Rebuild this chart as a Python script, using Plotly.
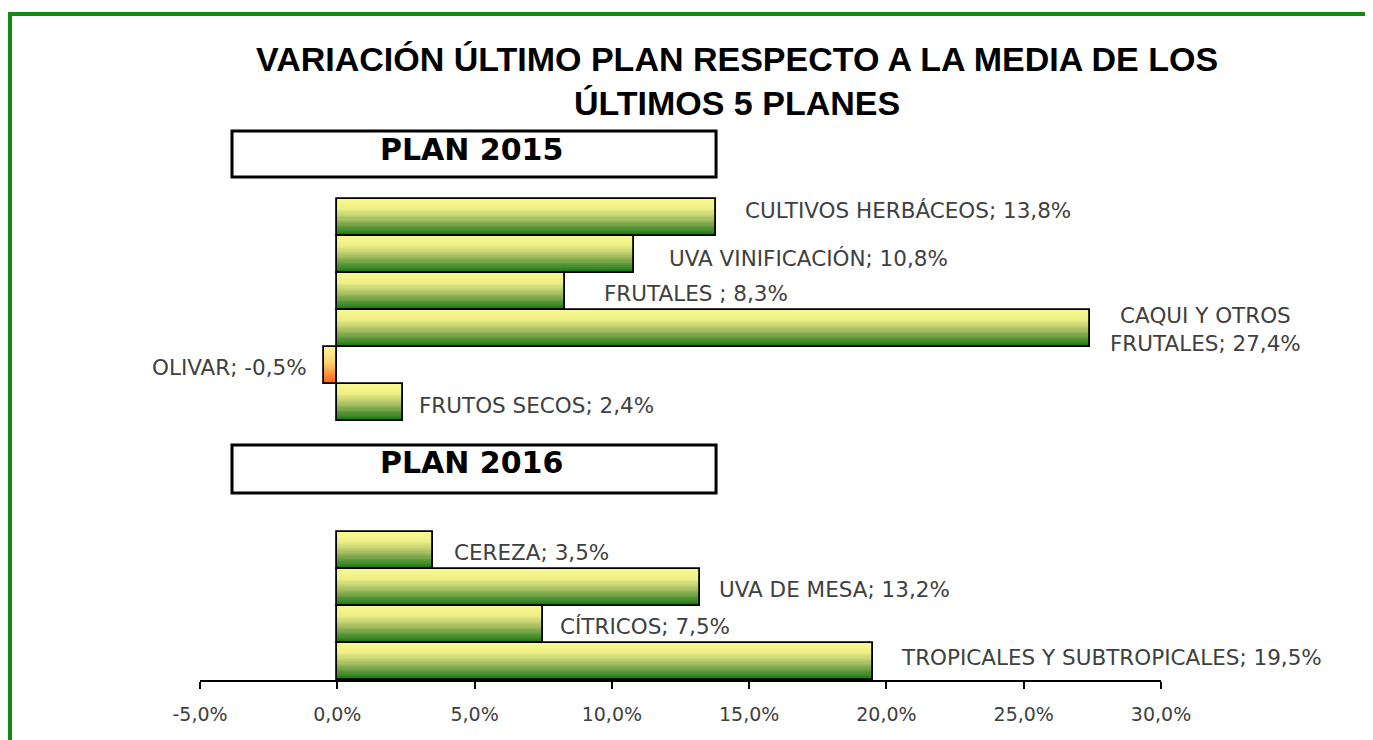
# %% Imports
import plotly.graph_objects as go

# %% Data
cultivos_2015 = ["CULTIVOS HERBÁCEOS", "UVA VINIFICACIÓN", "FRUTALES ",
                 "CAQUI Y OTROS<br>FRUTALES", "OLIVAR", "FRUTOS SECOS"]
valores_2015 = [13.8, 10.8, 8.3, 27.4, -0.5, 2.4]

cultivos_2016 = ["CEREZA", "UVA DE MESA", "CÍTRICOS", "TROPICALES Y SUBTROPICALES"]
valores_2016 = [3.5, 13.2, 7.5, 19.5]

tick_vals = [-5, 0, 5, 10, 15, 20, 25, 30]
tick_text = ["-5,0%", "0,0%", "5,0%", "10,0%", "15,0%", "20,0%", "25,0%", "30,0%"]

titulo = "VARIACIÓN ÚLTIMO PLAN RESPECTO A LA MEDIA DE LOS<br>ÚLTIMOS 5 PLANES"
planes = ["PLAN 2015", "PLAN 2016"]

# %% Layout of the rows (top to bottom, 3 empty rows between the plans)
N_GAP = 3
names = cultivos_2015 + cultivos_2016
values = valores_2015 + valores_2016
n_rows = len(cultivos_2015) + N_GAP + len(cultivos_2016)
ypos = list(range(n_rows - 1, n_rows - 1 - len(cultivos_2015), -1)) + \
    list(range(len(cultivos_2016) - 1, -1, -1))

labels = [f"{n}; {v:.1f}".replace(".", ",") + "%" for n, v in zip(names, values)]

# label nudges in px (xanchor, xshift, yshift)
label_pos = [
    ("left", 27, 7), ("left", 33, -4), ("left", 37, -2), ("center", 116, -1),
    ("right", -15, -2), ("left", 14, -3),
    ("left", 19, -2), ("left", 17, -2), ("left", 15, -2), ("left", 26, 4),
]

# %% Gradient helpers
GREEN_STOPS = [(0.0, (248, 248, 145)), (0.25, (238, 240, 135)), (0.55, (170, 192, 100)),
               (0.8, (85, 148, 55)), (1.0, (20, 120, 15))]
ORANGE_STOPS = [(0.0, (255, 246, 150)), (0.45, (255, 205, 110)), (1.0, (250, 95, 20))]


def grad(stops, t):
    for (t0, c0), (t1, c1) in zip(stops[:-1], stops[1:]):
        if t <= t1:
            f = (t - t0) / (t1 - t0)
            c = [round(a + (b - a) * f) for a, b in zip(c0, c1)]
            return f"rgb({c[0]},{c[1]},{c[2]})"
    c = stops[-1][1]
    return f"rgb({c[0]},{c[1]},{c[2]})"


# %% Figure
fig = go.Figure()

N = 30
for i in range(N):
    t = i / (N - 1)
    cols = [grad(GREEN_STOPS if v >= 0 else ORANGE_STOPS, t) for v in values]
    fig.add_trace(go.Bar(
        x=values, y=ypos, orientation="h",
        offset=0.5 - (i + 1) / N, width=1.15 / N,
        marker=dict(color=cols, line=dict(width=0)),
        hoverinfo="skip", showlegend=False,
    ))

# outline
fig.add_trace(go.Bar(
    x=values, y=ypos, orientation="h", offset=-0.5, width=1,
    marker=dict(color="rgba(0,0,0,0)", line=dict(color="black", width=1.8)),
    hovertext=names, hoverinfo="x+text", textposition="none", showlegend=False,
))

for lab, v, y, (anc, xs, ys) in zip(labels, values, ypos, label_pos):
    fig.add_annotation(
        x=v, y=y, text=lab, showarrow=False, xanchor=anc, yanchor="middle",
        xshift=xs, yshift=ys, align="center",
        font=dict(family="DejaVu Sans", size=21.5, color="#404040"),
    )

# title
fig.add_annotation(
    xref="paper", yref="paper", x=0.559, y=1.079, text=titulo, showarrow=False,
    xanchor="center", yanchor="middle",
    font=dict(family="Liberation Sans", size=34, color="black", weight="bold"),
)

# plan boxes
for txt, (y0, y1, yt) in zip(planes, [(0.9063, 0.9892, 0.955), (0.337, 0.4234, 0.391)]):
    fig.add_shape(type="rect", xref="paper", yref="paper", x0=0.0333, x1=0.537,
                  y0=y0, y1=y1, line=dict(color="black", width=3), fillcolor="white")
    fig.add_annotation(
        xref="paper", yref="paper", x=0.282, y=yt, text=txt, showarrow=False,
        xanchor="center", yanchor="middle",
        font=dict(family="DejaVu Sans", size=30, color="black", weight="bold"),
    )

# green frame
fig.add_shape(type="line", xref="paper", yref="paper", x0=-0.1977, x1=-0.1977,
              y0=1.2036, y1=-0.2, line=dict(color="#138A13", width=4))
fig.add_shape(type="line", xref="paper", yref="paper", x0=-0.1998, x1=1.25,
              y0=1.2, y1=1.2, line=dict(color="#138A13", width=4))

# page body keeps an 8px margin, so shift the plot area up/left by 8px
fig.update_layout(
    width=1373, height=740,
    margin=dict(l=192, r=220, t=117, b=68),
    paper_bgcolor="white", plot_bgcolor="white",
    barmode="overlay", bargap=0,
    showlegend=False,
)
fig.update_xaxes(
    range=[-5, 30], tickvals=tick_vals, ticktext=tick_text,
    showline=True, linecolor="black", linewidth=2,
    ticks="outside", ticklen=7, tickwidth=2, tickcolor="black",
    showgrid=False, zeroline=False, ticklabelstandoff=9,
    tickfont=dict(family="DejaVu Sans", size=19, color="#404040"),
)
fig.update_yaxes(range=[-0.5, n_rows + 1.5], visible=False)

fig.write_html("out.html")
